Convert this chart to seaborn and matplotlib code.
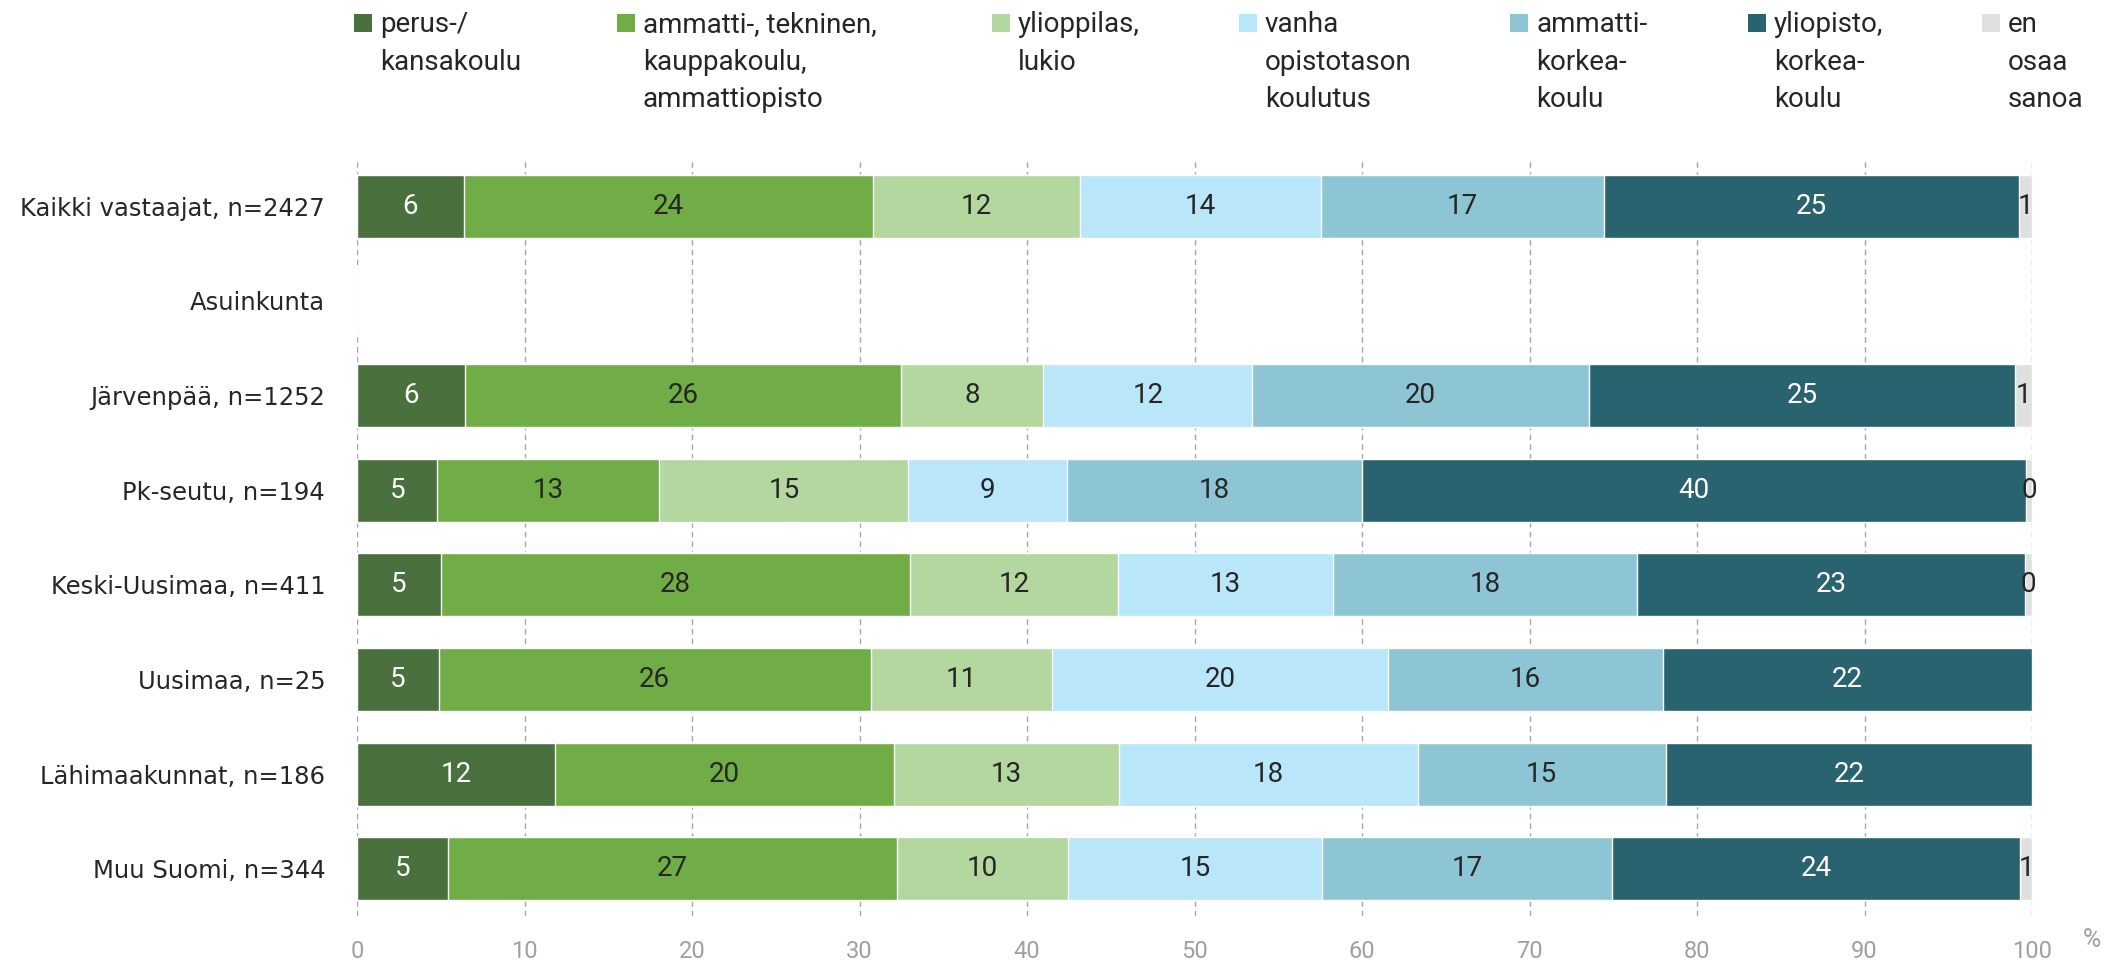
import numpy as np
import matplotlib
matplotlib.use("Agg")
import matplotlib.pyplot as plt
from matplotlib import font_manager
from matplotlib.patches import Rectangle
import seaborn as sns

rows = ["Kaikki vastaajat, n=2427", "Asuinkunta", "Järvenpää, n=1252", "Pk-seutu, n=194",
        "Keski-Uusimaa, n=411", "Uusimaa, n=25", "Lähimaakunnat, n=186", "Muu Suomi, n=344"]
levels = ["perus-/\nkansakoulu", "ammatti-, tekninen,\nkauppakoulu,\nammattiopisto", "ylioppilas,\nlukio",
          "vanha\nopistotason\nkoulutus", "ammatti-\nkorkea-\nkoulu", "yliopisto,\nkorkea-\nkoulu",
          "en\nosaa\nsanoa"]

nan = np.nan
# percentages per education level, one value per row (Asuinkunta is a header row)
perus = [6.37, nan, 6.44, 4.79, 5.00, 4.86, 11.82, 5.41]
ammatti = [24.42, nan, 26.06, 13.26, 27.98, 25.79, 20.23, 26.85]
ylioppilas = [12.39, nan, 8.46, 14.86, 12.45, 10.86, 13.45, 10.17]
vanha = [14.34, nan, 12.49, 9.45, 12.85, 20.01, 17.83, 15.19]
amk = [16.93, nan, 20.07, 17.64, 18.11, 16.45, 14.79, 17.31]
yliopisto = [24.79, nan, 25.48, 39.66, 23.21, 22.03, 21.88, 24.38]
eos = [0.76, nan, 1.00, 0.34, 0.40, nan, nan, 0.69]

colors = ["#4A703E", "#70AD47", "#B4D7A0", "#BAE6FA", "#8EC5D4", "#29636F", "#E0E0E0"]
label_colors = ["white", "#262626", "#262626", "#262626", "#262626", "white", "#262626"]

sns.set_theme(style="white")
names = {f.name for f in font_manager.fontManager.ttflist}
narrow = "Liberation Sans Narrow" if "Liberation Sans Narrow" in names else "Roboto"
plt.rcParams["font.family"] = [narrow, "DejaVu Sans"]

data = np.array([perus, ammatti, ylioppilas, vanha, amk, yliopisto, eos]).T
cum = np.nan_to_num(data).cumsum(axis=1)

fig = plt.figure(figsize=(21.26, 9.63), dpi=100)
ax = fig.add_axes([0.168, 0.0488, 0.7878, 0.7862])

# stacked bars: draw cumulative totals from the widest down
for j in reversed(range(len(levels))):
    sns.barplot(x=cum[:, j], y=rows, order=rows, color=colors[j], orient="h",
                width=0.665, saturation=1, errorbar=None, ax=ax, zorder=2)

for i in range(len(rows)):
    for j in range(len(levels)):
        v = data[i, j]
        if np.isnan(v):
            continue
        ax.text(cum[i, j] - v / 2, i, f"{v:.0f}", ha="center", va="center",
                fontsize=20, color=label_colors[j], zorder=5)

ax.set_xlim(0, 100)
ax.set_ylim(len(rows) - 0.5, -0.5)
ax.set_xticks(np.arange(0, 101, 10))
ax.set_xlabel("")
ax.set_ylabel("")
ax.tick_params(axis="x", length=0, pad=17, labelsize=17, labelcolor="#A0A0A0")
ax.tick_params(axis="y", length=0, pad=23)
for t in ax.get_yticklabels():
    t.set_fontfamily("DejaVu Sans")
    t.set_fontsize(17.5)
    t.set_color("#262626")
ax.grid(axis="x", color="#A6A6A6", linestyle=(0, (4, 3)), linewidth=1)
ax.grid(axis="y", visible=False)
ax.set_axisbelow(True)
sns.despine(ax=ax, left=True, bottom=True)

fig.text(2092 / 2126, 1 - 940 / 963, "%", fontsize=18, color="#A0A0A0", ha="center", va="center")

# legend laid out in one row like the original
W, H = 2126, 963
legend_x = [354, 617, 992, 1239, 1510, 1748, 1982]
for x, lab, c in zip(legend_x, levels, colors):
    fig.add_artist(Rectangle((x / W, 1 - 32 / H), 18 / W, 18 / H, transform=fig.transFigure,
                             facecolor=c, edgecolor="none"))
    fig.text((x + 26) / W, 1 - 11 / H, lab, fontsize=20, color="#262626",
             ha="left", va="top", linespacing=1.5)

fig.savefig("out.png", dpi=100)
